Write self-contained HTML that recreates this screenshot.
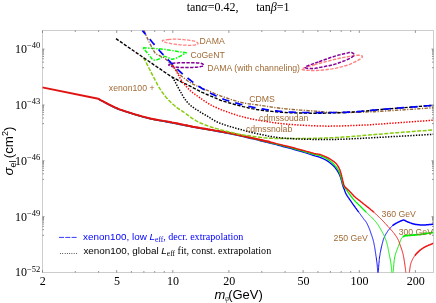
<!DOCTYPE html>
<html><head><meta charset="utf-8"><title>plot</title>
<style>
html,body{margin:0;padding:0;background:#fff;}
#w{position:relative;width:436px;height:303px;overflow:hidden;background:#fff;font-family:"Liberation Sans",sans-serif;}
.t{position:absolute;white-space:nowrap;line-height:1;}
.se{font-family:"Liberation Serif",serif;}
.br{color:#a06a35;font-size:8.7px;}
.yl{font-family:"Liberation Serif",serif;font-size:12px;color:#000;text-align:right;width:40.3px;left:0;}
.yl sup{font-size:8.5px;vertical-align:baseline;position:relative;top:-4.5px;}
.xl{font-family:"Liberation Serif",serif;font-size:12px;color:#000;transform:translateX(-50%);}
</style></head><body><div id="w">
<svg width="436" height="303" viewBox="0 0 436 303" style="position:absolute;left:0;top:0">
<defs><clipPath id="cp"><rect x="42.5" y="30.5" width="391.0" height="242.0"/></clipPath></defs>
<g stroke="#cdcdcd" stroke-width="1" fill="none" shape-rendering="crispEdges">
<rect x="42.5" y="30.5" width="391.0" height="242.0"/>
<path stroke="#666" stroke-width="0.7" shape-rendering="auto" d="M42.5 272.5 v-2.4 M42.5 30.5 v2.4 M75.3 272.5 v-1.5 M75.3 30.5 v1.5 M98.6 272.5 v-1.5 M98.6 30.5 v1.5 M116.7 272.5 v-2.4 M116.7 30.5 v2.4 M131.4 272.5 v-1.5 M131.4 30.5 v1.5 M143.9 272.5 v-1.5 M143.9 30.5 v1.5 M154.7 272.5 v-1.5 M154.7 30.5 v1.5 M164.3 272.5 v-1.5 M164.3 30.5 v1.5 M172.8 272.5 v-2.4 M172.8 30.5 v2.4 M228.9 272.5 v-2.4 M228.9 30.5 v2.4 M261.8 272.5 v-1.5 M261.8 30.5 v1.5 M285.1 272.5 v-1.5 M285.1 30.5 v1.5 M303.1 272.5 v-2.4 M303.1 30.5 v2.4 M317.9 272.5 v-1.5 M317.9 30.5 v1.5 M330.4 272.5 v-1.5 M330.4 30.5 v1.5 M341.2 272.5 v-1.5 M341.2 30.5 v1.5 M350.7 272.5 v-1.5 M350.7 30.5 v1.5 M359.3 272.5 v-2.4 M359.3 30.5 v2.4 M415.4 272.5 v-2.4 M415.4 30.5 v2.4 M42.5 49.1 h2.0 M433.5 49.1 h-2.0 M42.5 62.1 h1.5 M433.5 62.1 h-1.5 M42.5 58.8 h1.5 M433.5 58.8 h-1.5 M42.5 56.5 h1.5 M433.5 56.5 h-1.5 M42.5 54.7 h1.5 M433.5 54.7 h-1.5 M42.5 53.2 h1.5 M433.5 53.2 h-1.5 M42.5 52.0 h1.5 M433.5 52.0 h-1.5 M42.5 50.9 h1.5 M433.5 50.9 h-1.5 M42.5 50.0 h1.5 M433.5 50.0 h-1.5 M42.5 67.7 h1.5 M433.5 67.7 h-1.5 M42.5 105.0 h2.0 M433.5 105.0 h-2.0 M42.5 118.0 h1.5 M433.5 118.0 h-1.5 M42.5 114.7 h1.5 M433.5 114.7 h-1.5 M42.5 112.4 h1.5 M433.5 112.4 h-1.5 M42.5 110.6 h1.5 M433.5 110.6 h-1.5 M42.5 109.1 h1.5 M433.5 109.1 h-1.5 M42.5 107.8 h1.5 M433.5 107.8 h-1.5 M42.5 106.8 h1.5 M433.5 106.8 h-1.5 M42.5 105.8 h1.5 M433.5 105.8 h-1.5 M42.5 123.6 h1.5 M433.5 123.6 h-1.5 M42.5 160.8 h2.0 M433.5 160.8 h-2.0 M42.5 173.8 h1.5 M433.5 173.8 h-1.5 M42.5 170.5 h1.5 M433.5 170.5 h-1.5 M42.5 168.2 h1.5 M433.5 168.2 h-1.5 M42.5 166.4 h1.5 M433.5 166.4 h-1.5 M42.5 164.9 h1.5 M433.5 164.9 h-1.5 M42.5 163.7 h1.5 M433.5 163.7 h-1.5 M42.5 162.6 h1.5 M433.5 162.6 h-1.5 M42.5 161.7 h1.5 M433.5 161.7 h-1.5 M42.5 179.4 h1.5 M433.5 179.4 h-1.5 M42.5 216.7 h2.0 M433.5 216.7 h-2.0 M42.5 229.7 h1.5 M433.5 229.7 h-1.5 M42.5 226.4 h1.5 M433.5 226.4 h-1.5 M42.5 224.1 h1.5 M433.5 224.1 h-1.5 M42.5 222.3 h1.5 M433.5 222.3 h-1.5 M42.5 220.8 h1.5 M433.5 220.8 h-1.5 M42.5 219.5 h1.5 M433.5 219.5 h-1.5 M42.5 218.5 h1.5 M433.5 218.5 h-1.5 M42.5 217.5 h1.5 M433.5 217.5 h-1.5 M42.5 235.3 h1.5 M433.5 235.3 h-1.5"/>
</g>
<g clip-path="url(#cp)" fill="none" stroke-linejoin="round">
<path d="M98.3 99.2 L99.7 99.9 L101.1 100.7 L102.6 101.4 L104.0 102.2 L105.5 103.0 L106.9 103.8 L108.3 104.5 L109.7 105.2 L111.1 105.9 L112.5 106.6 L113.8 107.2 L115.0 107.8 L116.2 108.3 L117.3 108.8 L118.4 109.3 L119.5 109.7 L120.5 110.0 L121.6 110.4 L122.6 110.7 L123.6 111.1 L124.5 111.4 L125.5 111.7 L126.6 112.1 L127.6 112.4 L128.7 112.7 L129.7 113.1 L130.8 113.4 L131.8 113.7 L132.8 114.1 L133.9 114.4 L134.9 114.7 L136.0 115.0 L137.0 115.3 L138.1 115.6 L139.1 115.9 L140.2 116.2 L141.2 116.5 L142.2 116.8 L143.2 117.0 L144.2 117.3 L145.2 117.6 L146.2 117.8 L147.2 118.1 L148.3 118.4 L149.3 118.6 L150.4 118.9 L151.6 119.1 L152.8 119.4 L154.0 119.7 L155.3 119.9 L156.6 120.2 L157.9 120.4 L159.2 120.6 L160.6 120.9 L162.0 121.1 L163.5 121.4 L165.0 121.7 L166.6 122.0 L168.3 122.3 L170.0 122.6 L171.8 122.9 L173.7 123.3 L175.6 123.7 L177.6 124.1 L179.7 124.5 L181.8 124.9 L184.0 125.3 L186.2 125.8 L188.4 126.2 L190.6 126.6 L192.9 127.1 L195.2 127.5 L197.6 127.9 L200.0 128.4 L202.6 128.8 L205.1 129.3 L207.8 129.7 L210.4 130.2 L213.0 130.6 L215.6 131.1 L218.1 131.5 L220.5 132.0 L222.8 132.4 L225.0 132.8 L227.0 133.2 L228.9 133.6 L230.6 133.9 L232.3 134.2 L233.9 134.6 L235.4 134.9 L236.9 135.2 L238.5 135.6 L240.1 135.9 L241.7 136.3 L243.4 136.7 L245.2 137.1 L247.1 137.5 L249.1 138.0 L251.1 138.5 L253.1 138.9 L255.2 139.4 L257.3 139.9 L259.4 140.5 L261.5 141.0 L263.7 141.5 L265.8 142.0 L267.9 142.6 L270.0 143.1 L272.1 143.6 L274.2 144.2 L276.4 144.7 L278.6 145.3 L280.8 145.9 L283.0 146.5 L285.1 147.0 L287.3 147.6 L289.3 148.2 L291.4 148.7 L293.3 149.3 L295.2 149.8 L297.0 150.3 L298.9 150.9 L300.7 151.4 L302.4 151.9 L304.2 152.5 L305.9 153.0 L307.5 153.5 L309.0 154.0 L310.4 154.5 L311.8 154.9 L313.0 155.3 L314.1 155.6 L315.0 155.9 L315.8 156.1 L316.4 156.3 L317.0 156.4 L317.4 156.5 L317.8 156.6 L318.1 156.7 L318.4 156.8 L318.7 156.9 L319.1 157.0 L319.5 157.2 L320.0 157.4 L320.6 157.6 L321.2 157.9 L321.8 158.2 L322.5 158.4 L323.1 158.7 L323.8 159.0 L324.4 159.3 L325.1 159.7 L325.8 160.0 L326.4 160.4 L327.0 160.7 L327.6 161.1 L328.2 161.5 L328.8 161.9 L329.3 162.3 L329.9 162.8 L330.4 163.2 L331.0 163.7 L331.5 164.1 L332.0 164.6 L332.5 165.1 L333.0 165.5 L333.5 166.0 L333.9 166.4 L334.3 166.8 L334.7 167.2 L335.1 167.7 L335.4 168.1 L335.7 168.5 L336.0 168.9 L336.3 169.3 L336.6 169.7 L336.9 170.2 L337.2 170.6 L337.4 171.0 L337.7 171.4 L338.0 171.8 L338.2 172.2 L338.4 172.7 L338.7 173.1 L338.9 173.5 L339.1 174.0 L339.3 174.4 L339.5 174.8 L339.7 175.2 L339.9 175.7 L340.0 176.1 L340.2 176.5 L340.4 176.9 L340.5 177.3 L340.7 177.8 L340.8 178.2 L340.9 178.6 L341.0 179.0 L341.1 179.4 L341.3 179.9 L341.4 180.3 L341.5 180.7 L341.6 181.1 L341.7 181.5 L341.8 181.9 L341.9 182.3 L342.0 182.7 L342.1 183.2 L342.2 183.6 L342.3 184.0 L342.5 184.4 L342.6 184.8 L342.7 185.2 L342.8 185.6 L342.9 185.9 L343.0 186.3 L343.1 186.6 L343.2 187.0 L343.4 187.3 L343.5 187.6 L343.6 187.9 L343.7 188.2 L343.9 188.5 L344.0 188.8 L344.1 189.1 L344.2 189.4 L344.4 189.7 L344.5 190.0 L344.6 190.3 L344.7 190.6 L344.8 190.9 L344.9 191.2 L345.0 191.5 L345.1 191.9 L345.3 192.2 L345.4 192.5 L345.5 192.8 L345.7 193.2 L345.9 193.6 L346.1 194.0 L346.3 194.4 L346.6 194.9 L346.9 195.4 L347.2 195.8 L347.5 196.3 L347.9 196.9 L348.2 197.4 L348.6 197.9 L349.0 198.5 L349.3 199.0 L349.7 199.5 L350.1 200.1 L350.5 200.7 L350.9 201.2 L351.3 201.8 L351.7 202.4 L352.1 203.0 L352.5 203.6 L352.9 204.2 L353.4 204.8 L353.8 205.4 L354.2 206.0 L354.7 206.6 L355.1 207.2 L355.5 207.8 L356.0 208.4 L356.4 209.0 L356.9 209.7 L357.4 210.3 L357.8 210.9 L358.3 211.5 L358.7 212.1" stroke="#0000ff" stroke-width="1.3"/>
<path d="M358.7 212.1 L359.2 212.7 L359.6 213.3 L360.0 213.9 L360.4 214.4 L360.8 214.9 L361.1 215.4 L361.5 215.9 L361.8 216.4 L362.2 216.8 L362.5 217.3 L362.8 217.7 L363.1 218.1 L363.4 218.5 L363.7 218.9 L363.9 219.3 L364.2 219.6 L364.4 219.9 L364.6 220.2 L364.8 220.4 L365.0 220.6 L365.2 220.7 L365.3 220.9 L365.5 221.1 L365.6 221.3 L365.8 221.5 L365.9 221.7 L366.1 222.0 L366.3 222.3 L366.5 222.7 L366.7 223.1 L367.0 223.5 L367.2 224.0 L367.4 224.4 L367.7 224.9 L367.9 225.4 L368.2 226.0 L368.4 226.5 L368.6 227.0 L368.9 227.6 L369.1 228.1 L369.3 228.7 L369.5 229.2 L369.8 229.8 L370.0 230.4 L370.2 231.1 L370.4 231.7 L370.6 232.3 L370.8 232.9 L371.0 233.5 L371.2 234.1 L371.4 234.7 L371.6 235.2 L371.8 235.7 L371.9 236.2 L372.1 236.6 L372.2 237.0 L372.4 237.5 L372.5 237.9 L372.6 238.3 L372.7 238.6 L372.9 239.0 L373.0 239.4 L373.1 239.8 L373.2 240.2 L373.3 240.6 L373.4 241.0 L373.5 241.3 L373.6 241.7 L373.7 242.1 L373.7 242.4 L373.8 242.8 L373.9 243.2 L374.0 243.6 L374.0 244.0 L374.1 244.4 L374.2 244.8 L374.3 245.2 L374.4 245.6 L374.4 246.0 L374.5 246.4 L374.6 246.8 L374.7 247.2 L374.7 247.6 L374.8 248.1 L374.9 248.6 L375.0 249.2 L375.1 249.9 L375.2 250.6 L375.3 251.4 L375.5 252.3 L375.6 253.3 L375.8 254.4 L375.9 255.5 L376.1 256.6 L376.3 257.8 L376.4 259.0 L376.6 260.1 L376.7 261.2 L376.9 262.2 L377.0 263.2 L377.1 264.1 L377.2 265.0 L377.3 265.8 L377.3 266.7 L377.4 267.5 L377.5 268.3 L377.5 269.1 L377.6 269.8 L377.6 270.6 L377.7 271.4 L377.7 272.2 L377.8 273.0" stroke="#0000ff" stroke-width="0.95"/>
<path d="M378.2 273.0 L378.3 271.6 L378.4 270.3 L378.5 268.9 L378.6 267.5 L378.7 266.1 L378.8 264.7 L378.9 263.4 L379.1 262.0 L379.2 260.7 L379.3 259.4 L379.4 258.1 L379.6 256.9 L379.8 255.7 L380.0 254.5 L380.1 253.4 L380.4 252.3 L380.6 251.2 L380.8 250.1 L381.0 249.0 L381.2 248.0 L381.4 247.0 L381.7 246.1 L381.9 245.2 L382.1 244.3 L382.3 243.5 L382.5 242.7 L382.7 242.0 L382.9 241.3 L383.0 240.7 L383.2 240.1 L383.4 239.5 L383.6 238.9 L383.8 238.3 L384.1 237.7 L384.3 237.1 L384.6 236.5 L384.9 235.9 L385.2 235.3 L385.6 234.6 L385.9 234.0 L386.3 233.4 L386.7 232.8 L387.1 232.2 L387.4 231.6 L387.8 231.1 L388.2 230.5 L388.6 230.0 L389.0 229.5 L389.4 229.0 L389.7 228.6 L390.1 228.1 L390.5 227.7 L390.8 227.3 L391.2 226.9 L391.6 226.5 L391.9 226.2 L392.3 225.8" stroke="#0000ff" stroke-width="0.95"/>
<path d="M392.3 225.8 L392.7 225.5 L393.2 225.1 L393.6 224.8 L394.1 224.5 L394.6 224.1 L395.1 223.8 L395.7 223.5 L396.2 223.2 L396.8 222.9 L397.4 222.6 L397.9 222.3 L398.5 222.1 L399.0 221.8 L399.5 221.6 L399.9 221.4 L400.3 221.2 L400.7 221.0 L401.1 220.9 L401.4 220.7 L401.7 220.6 L402.0 220.5 L402.3 220.4 L402.6 220.3 L402.9 220.2 L403.2 220.2 L403.4 220.1 L403.7 220.1 L403.9 220.1 L404.1 220.1 L404.3 220.2 L404.5 220.2 L404.6 220.3 L404.8 220.4 L405.0 220.5 L405.1 220.6 L405.3 220.8 L405.6 220.9 L405.9 221.1 L406.2 221.2 L406.6 221.4 L407.0 221.6 L407.5 221.8 L408.0 222.0 L408.6 222.2 L409.1 222.4 L409.7 222.7 L410.3 222.9 L410.8 223.1 L411.4 223.3 L412.0 223.5 L412.5 223.7 L413.0 223.8 L413.6 224.0 L414.1 224.1 L414.6 224.2 L415.1 224.3 L415.6 224.4 L416.2 224.5 L416.7 224.6 L417.2 224.6 L417.8 224.7 L418.3 224.7 L418.8 224.8 L419.3 224.8 L419.8 224.9 L420.3 224.9 L420.8 224.9 L421.3 225.0 L421.8 225.0 L422.3 225.0 L422.9 225.0 L423.4 225.0 L423.9 224.9 L424.5 224.9 L425.1 224.9 L425.7 224.9 L426.4 224.8 L427.0 224.8 L427.7 224.7 L428.4 224.7 L429.1 224.6 L429.8 224.5 L430.5 224.5 L431.2 224.4 L431.9 224.3 L432.6 224.3 L433.3 224.2" stroke="#0000ff" stroke-width="1.5"/>
<path d="M98.3 99.0 L99.7 99.7 L101.1 100.5 L102.6 101.2 L104.0 102.0 L105.5 102.8 L106.9 103.5 L108.3 104.3 L109.7 105.0 L111.1 105.7 L112.5 106.4 L113.8 107.0 L115.0 107.6 L116.2 108.1 L117.3 108.6 L118.4 109.1 L119.5 109.5 L120.5 109.8 L121.6 110.2 L122.6 110.5 L123.6 110.9 L124.5 111.2 L125.5 111.5 L126.6 111.9 L127.6 112.2 L128.7 112.5 L129.7 112.9 L130.8 113.2 L131.8 113.5 L132.8 113.9 L133.9 114.2 L134.9 114.5 L136.0 114.8 L137.0 115.1 L138.1 115.4 L139.1 115.7 L140.2 116.0 L141.2 116.3 L142.2 116.6 L143.2 116.8 L144.2 117.1 L145.2 117.4 L146.2 117.6 L147.2 117.9 L148.3 118.2 L149.3 118.4 L150.4 118.7 L151.6 118.9 L152.8 119.2 L154.0 119.5 L155.3 119.7 L156.6 119.9 L157.9 120.2 L159.2 120.4 L160.6 120.6 L162.0 120.9 L163.5 121.1 L165.0 121.4 L166.6 121.7 L168.3 122.0 L170.0 122.3 L171.8 122.6 L173.7 123.0 L175.6 123.4 L177.6 123.8 L179.7 124.2 L181.8 124.7 L184.0 125.1 L186.2 125.6 L188.4 126.0 L190.6 126.4 L192.9 126.9 L195.2 127.3 L197.6 127.7 L200.0 128.2 L202.6 128.6 L205.1 129.0 L207.8 129.5 L210.4 129.9 L213.0 130.3 L215.6 130.8 L218.1 131.2 L220.5 131.6 L222.8 132.0 L225.0 132.4 L227.0 132.8 L228.9 133.1 L230.6 133.5 L232.3 133.8 L233.9 134.2 L235.4 134.5 L236.9 134.8 L238.5 135.2 L240.1 135.5 L241.7 135.9 L243.4 136.3 L245.2 136.7 L247.1 137.1 L249.1 137.6 L251.1 138.0 L253.1 138.5 L255.2 139.0 L257.3 139.5 L259.4 140.0 L261.5 140.5 L263.7 141.0 L265.8 141.5 L267.9 142.0 L270.0 142.5 L272.1 143.0 L274.2 143.6 L276.4 144.1 L278.6 144.7 L280.8 145.2 L283.0 145.8 L285.1 146.3 L287.3 146.9 L289.3 147.4 L291.4 148.0 L293.3 148.5 L295.2 149.0 L297.0 149.5 L298.9 150.0 L300.7 150.5 L302.4 151.0 L304.2 151.5 L305.9 152.0 L307.5 152.4 L309.0 152.9 L310.4 153.3 L311.8 153.7 L313.0 154.0 L314.1 154.3 L315.0 154.5 L315.8 154.7 L316.4 154.9 L317.0 154.9 L317.4 155.0 L317.8 155.1 L318.1 155.1 L318.4 155.1 L318.7 155.2 L319.1 155.3 L319.5 155.4 L320.0 155.6 L320.6 155.8 L321.2 156.1 L321.8 156.3 L322.5 156.6 L323.2 156.9 L323.8 157.2 L324.5 157.5 L325.2 157.9 L325.8 158.2 L326.4 158.5 L327.0 158.9 L327.6 159.2 L328.1 159.5 L328.6 159.9 L329.1 160.2 L329.6 160.5 L330.1 160.9 L330.5 161.2 L330.9 161.6 L331.3 162.0 L331.8 162.3 L332.2 162.7 L332.6 163.1 L333.0 163.5 L333.4 163.9 L333.8 164.3 L334.2 164.8 L334.6 165.2 L335.0 165.6 L335.4 166.1 L335.8 166.5 L336.2 167.0 L336.5 167.5 L336.9 167.9 L337.2 168.4 L337.5 168.8 L337.8 169.2 L338.0 169.7 L338.3 170.1 L338.5 170.5 L338.7 171.0 L338.9 171.4 L339.1 171.9 L339.3 172.3 L339.5 172.7 L339.7 173.1 L339.8 173.6 L340.0 174.0 L340.2 174.4 L340.3 174.9 L340.5 175.3 L340.6 175.7 L340.7 176.1 L340.8 176.5 L340.9 177.0 L341.1 177.4 L341.2 177.8 L341.3 178.2 L341.4 178.6 L341.5 179.0 L341.6 179.4 L341.7 179.8 L341.8 180.2 L342.0 180.6 L342.1 181.0 L342.2 181.4 L342.3 181.8 L342.4 182.1 L342.5 182.5 L342.6 182.9 L342.7 183.2 L342.8 183.5 L342.9 183.8 L343.0 184.1 L343.1 184.3 L343.1 184.5 L343.2 184.7 L343.3 184.9 L343.3 185.2 L343.4 185.4 L343.5 185.6 L343.6 185.8 L343.8 186.0 L343.9 186.3 L344.1 186.6 L344.2 186.8 L344.4 187.1 L344.7 187.4 L344.9 187.7 L345.1 188.0 L345.3 188.3 L345.6 188.6 L345.8 189.0 L346.1 189.3 L346.3 189.6 L346.6 190.0 L346.9 190.4 L347.1 190.7 L347.4 191.1 L347.7 191.5 L347.9 191.9 L348.2 192.4 L348.5 192.8 L348.8 193.2 L349.1 193.6 L349.4 194.1 L349.8 194.5 L350.1 195.0 L350.5 195.5 L350.8 196.0 L351.2 196.5 L351.7 197.0 L352.1 197.5 L352.5 198.1 L352.9 198.6 L353.4 199.1 L353.8 199.6 L354.2 200.1 L354.7 200.6 L355.1 201.1 L355.5 201.6 L355.9 202.0 L356.4 202.4 L356.8 202.8 L357.2 203.3 L357.7 203.7 L358.1 204.1 L358.5 204.5 L358.9 204.9 L359.4 205.3 L359.8 205.7 L360.2 206.1 L360.6 206.5 L361.0 207.0 L361.5 207.4 L361.9 207.8 L362.3 208.3 L362.7 208.7 L363.2 209.1 L363.6 209.5 L364.0 210.0 L364.4 210.4 L364.8 210.8 L365.2 211.2 L365.6 211.6 L366.0 212.0 L366.4 212.3" stroke="#00ee00" stroke-width="1.3"/>
<path d="M366.4 212.3 L366.8 212.7 L367.2 213.1 L367.5 213.4 L367.9 213.8 L368.3 214.2 L368.7 214.5 L369.0 214.9 L369.4 215.2 L369.8 215.6 L370.2 216.0 L370.5 216.3 L370.9 216.7 L371.3 217.0 L371.7 217.4 L372.0 217.8 L372.4 218.1 L372.8 218.5 L373.1 218.9 L373.5 219.2 L373.8 219.6 L374.2 220.0 L374.5 220.4 L374.9 220.8 L375.2 221.2 L375.6 221.6 L375.9 222.0 L376.3 222.4 L376.6 222.9 L376.9 223.3 L377.2 223.7 L377.6 224.2 L377.9 224.6 L378.2 225.1 L378.5 225.6 L378.8 226.0 L379.1 226.5 L379.4 227.0 L379.7 227.5 L380.0 228.0 L380.3 228.5 L380.6 229.1 L380.9 229.6 L381.1 230.1 L381.4 230.6 L381.7 231.1 L382.0 231.6 L382.2 232.1 L382.5 232.6 L382.8 233.1 L383.1 233.6 L383.3 234.1 L383.6 234.5 L383.8 235.1 L384.1 235.6 L384.3 236.1 L384.6 236.6 L384.8 237.2 L385.0 237.8 L385.3 238.4 L385.5 239.0 L385.7 239.7 L386.0 240.4 L386.2 241.0 L386.4 241.7 L386.6 242.3 L386.8 243.0 L387.0 243.6 L387.1 244.2 L387.3 244.8 L387.4 245.3 L387.6 245.8 L387.7 246.2 L387.8 246.6 L387.8 247.0 L387.9 247.4 L388.0 247.8 L388.1 248.2 L388.1 248.7 L388.2 249.3 L388.4 249.9 L388.5 250.6 L388.7 251.4 L388.8 252.3 L389.0 253.3 L389.3 254.4 L389.5 255.5 L389.7 256.6 L389.9 257.8 L390.2 259.0 L390.4 260.1 L390.6 261.2 L390.7 262.2 L390.9 263.2 L391.0 264.1 L391.1 265.0 L391.2 265.8 L391.3 266.7 L391.4 267.5 L391.5 268.3 L391.6 269.1 L391.6 269.8 L391.7 270.6 L391.7 271.4 L391.8 272.2 L391.9 273.0" stroke="#00ee00" stroke-width="0.95"/>
<path d="M393.0 273.0 L393.1 271.6 L393.3 270.3 L393.4 268.8 L393.5 267.4 L393.7 266.0 L393.8 264.6 L393.9 263.2 L394.1 261.8 L394.2 260.5 L394.4 259.3 L394.6 258.0 L394.8 256.9 L395.0 255.8 L395.3 254.8 L395.6 253.8 L395.9 252.9 L396.2 252.0 L396.5 251.2 L396.8 250.3 L397.1 249.5 L397.4 248.8 L397.7 248.0 L398.0 247.2 L398.3 246.5 L398.6 245.8 L398.8 245.0 L399.1 244.3 L399.3 243.6 L399.6 242.9 L399.8 242.3 L400.1 241.6 L400.3 241.0 L400.5 240.5 L400.7 239.9 L401.0 239.4 L401.2 239.0 L401.4 238.6 L401.6 238.3 L401.9 238.0 L402.1 237.7 L402.3 237.5 L402.5 237.3 L402.7 237.1 L402.9 237.0" stroke="#00ee00" stroke-width="0.95"/>
<path d="M402.9 237.0 L403.1 236.8 L403.3 236.7 L403.5 236.5 L403.7 236.4 L403.9 236.3 L404.0 236.2 L404.1 236.1 L404.2 236.0 L404.2 235.9 L404.3 235.9 L404.4 235.9 L404.6 235.8 L404.9 235.8 L405.2 235.7 L405.6 235.7 L406.2 235.6 L406.9 235.5 L407.7 235.5 L408.6 235.4 L409.6 235.3 L410.6 235.3 L411.8 235.2 L412.9 235.1 L414.1 235.0 L415.3 234.9 L416.5 234.8 L417.7 234.7 L418.8 234.6 L419.9 234.5 L421.1 234.3 L422.3 234.2 L423.5 234.0 L424.7 233.8 L425.9 233.6 L427.2 233.4 L428.4 233.2 L429.6 233.1 L430.9 232.9 L432.1 232.7 L433.3 232.5" stroke="#00ee00" stroke-width="1.8"/>
<path d="M98.3 98.8 L99.7 99.5 L101.1 100.3 L102.6 101.0 L104.0 101.8 L105.5 102.6 L106.9 103.3 L108.3 104.1 L109.7 104.8 L111.1 105.5 L112.5 106.2 L113.8 106.8 L115.0 107.4 L116.2 107.9 L117.3 108.4 L118.4 108.9 L119.5 109.3 L120.5 109.6 L121.6 110.0 L122.6 110.3 L123.6 110.7 L124.5 111.0 L125.5 111.3 L126.6 111.7 L127.6 112.0 L128.7 112.3 L129.7 112.7 L130.8 113.0 L131.8 113.3 L132.8 113.7 L133.9 114.0 L134.9 114.3 L136.0 114.6 L137.0 114.9 L138.1 115.2 L139.1 115.5 L140.2 115.8 L141.2 116.1 L142.2 116.4 L143.2 116.6 L144.2 116.9 L145.2 117.2 L146.2 117.4 L147.2 117.7 L148.3 118.0 L149.3 118.2 L150.4 118.5 L151.6 118.7 L152.8 119.0 L154.0 119.3 L155.3 119.5 L156.6 119.7 L157.9 119.9 L159.2 120.2 L160.6 120.4 L162.0 120.6 L163.5 120.9 L165.0 121.1 L166.6 121.4 L168.3 121.7 L170.0 122.0 L171.8 122.4 L173.7 122.7 L175.6 123.1 L177.6 123.5 L179.7 124.0 L181.8 124.4 L184.0 124.9 L186.2 125.3 L188.4 125.8 L190.6 126.2 L192.9 126.7 L195.2 127.1 L197.6 127.5 L200.0 128.0 L202.6 128.4 L205.1 128.8 L207.8 129.3 L210.4 129.7 L213.0 130.1 L215.6 130.6 L218.1 131.0 L220.5 131.4 L222.8 131.8 L225.0 132.2 L227.0 132.6 L228.9 132.9 L230.6 133.3 L232.3 133.6 L233.9 133.9 L235.4 134.3 L236.9 134.6 L238.5 134.9 L240.1 135.3 L241.7 135.6 L243.4 136.0 L245.2 136.4 L247.1 136.8 L249.1 137.2 L251.1 137.7 L253.1 138.1 L255.2 138.6 L257.3 139.1 L259.4 139.5 L261.5 140.0 L263.7 140.5 L265.8 141.0 L267.9 141.5 L270.0 142.0 L272.1 142.5 L274.2 143.0 L276.4 143.6 L278.6 144.1 L280.8 144.6 L283.0 145.2 L285.1 145.7 L287.3 146.3 L289.3 146.8 L291.4 147.3 L293.3 147.8 L295.2 148.3 L297.0 148.8 L298.9 149.3 L300.7 149.8 L302.4 150.2 L304.2 150.7 L305.9 151.2 L307.5 151.6 L309.0 152.0 L310.4 152.4 L311.8 152.8 L313.0 153.1 L314.1 153.4 L315.0 153.6 L315.8 153.8 L316.4 153.9 L317.0 154.0 L317.4 154.0 L317.8 154.1 L318.1 154.1 L318.4 154.1 L318.7 154.2 L319.1 154.2 L319.5 154.4 L320.0 154.5 L320.6 154.7 L321.2 154.9 L321.8 155.1 L322.4 155.3 L323.1 155.6 L323.7 155.8 L324.4 156.1 L325.0 156.4 L325.7 156.6 L326.3 157.0 L327.0 157.3 L327.6 157.6 L328.2 157.9 L328.9 158.3 L329.6 158.7 L330.2 159.1 L330.9 159.5 L331.6 160.0 L332.2 160.4 L332.9 160.9 L333.5 161.3 L334.1 161.7 L334.6 162.2 L335.1 162.6 L335.6 163.0 L336.0 163.4 L336.4 163.9 L336.7 164.3 L337.0 164.7 L337.4 165.1 L337.6 165.6 L337.9 166.0 L338.2 166.4 L338.4 166.9 L338.7 167.3 L338.9 167.7 L339.1 168.1 L339.3 168.5 L339.5 169.0 L339.7 169.4 L339.9 169.8 L340.0 170.2 L340.1 170.6 L340.3 171.0 L340.4 171.5 L340.5 171.9 L340.7 172.3 L340.8 172.7 L340.9 173.1 L341.1 173.5 L341.2 173.9 L341.3 174.4 L341.4 174.8 L341.5 175.2 L341.6 175.6 L341.7 176.0 L341.8 176.4 L341.9 176.9 L342.0 177.3 L342.1 177.7 L342.2 178.1 L342.3 178.6 L342.4 179.0 L342.5 179.5 L342.6 179.9 L342.7 180.3 L342.8 180.8 L342.9 181.2 L343.0 181.6 L343.1 182.0 L343.2 182.4 L343.3 182.8 L343.4 183.1 L343.5 183.5 L343.5 183.8 L343.6 184.1 L343.7 184.4 L343.7 184.6 L343.8 184.9 L343.9 185.2 L344.0 185.4 L344.1 185.7 L344.3 186.0 L344.5 186.3 L344.7 186.6 L345.0 186.9 L345.3 187.2 L345.7 187.6 L346.0 187.9 L346.4 188.2 L346.8 188.6 L347.2 188.9 L347.5 189.2 L347.9 189.6 L348.3 189.9 L348.6 190.2 L348.9 190.5 L349.2 190.8 L349.5 191.2 L349.8 191.5 L350.1 191.8 L350.4 192.2 L350.7 192.5 L351.0 192.8 L351.3 193.1 L351.6 193.4 L351.8 193.7 L352.1 194.0 L352.4 194.3 L352.6 194.5 L352.8 194.8 L353.1 195.1 L353.3 195.3 L353.5 195.5 L353.7 195.8 L354.0 196.0 L354.2 196.3 L354.5 196.5 L354.8 196.8 L355.1 197.1 L355.5 197.4 L355.8 197.7 L356.2 198.0 L356.6 198.4 L357.1 198.7 L357.5 199.0 L358.0 199.4 L358.4 199.7 L358.9 200.1 L359.3 200.4 L359.8 200.8 L360.2 201.1 L360.6 201.4 L361.0 201.8 L361.5 202.1 L361.9 202.4 L362.3 202.8 L362.7 203.1 L363.1 203.4 L363.5 203.8 L363.9 204.1 L364.4 204.4 L364.8 204.8 L365.2 205.1 L365.6 205.4 L366.0 205.8 L366.5 206.1 L366.9 206.4 L367.3 206.8 L367.7 207.1 L368.1 207.4 L368.6 207.8 L369.0 208.1 L369.4 208.5 L369.9 208.8 L370.3 209.2 L370.7 209.6 L371.2 210.0 L371.6 210.3 L372.1 210.7 L372.6 211.1 L373.0 211.5 L373.5 211.9 L374.0 212.3" stroke="#ee1111" stroke-width="1.4"/>
<path d="M374.0 212.3 L374.4 212.8 L374.9 213.2 L375.3 213.6 L375.8 214.0 L376.3 214.4 L376.7 214.8 L377.2 215.3 L377.6 215.7 L378.1 216.1 L378.5 216.6 L379.0 217.0 L379.4 217.4 L379.9 217.9 L380.3 218.3 L380.8 218.8 L381.2 219.2 L381.6 219.6 L382.1 220.1 L382.5 220.5 L382.9 221.0 L383.4 221.4 L383.8 221.9 L384.2 222.3 L384.6 222.8 L385.0 223.2 L385.5 223.7 L385.9 224.1 L386.3 224.6 L386.7 225.1 L387.1 225.5 L387.6 226.0 L388.0 226.4 L388.4 226.9 L388.9 227.4 L389.3 227.8 L389.7 228.3 L390.1 228.8 L390.5 229.2 L390.9 229.7 L391.3 230.1 L391.7 230.5 L392.0 231.0 L392.4 231.4 L392.8 231.8 L393.1 232.3 L393.5 232.7 L393.8 233.1 L394.1 233.5 L394.5 233.9 L394.8 234.4 L395.1 234.8 L395.4 235.2 L395.7 235.6 L396.0 236.0 L396.3 236.5 L396.5 236.9 L396.8 237.3 L397.1 237.8 L397.3 238.2 L397.6 238.6 L397.8 239.0 L398.0 239.4 L398.2 239.8 L398.4 240.2 L398.6 240.6 L398.7 240.9 L398.8 241.1 L398.9 241.4 L399.0 241.7 L399.1 241.9 L399.2 242.2 L399.3 242.5 L399.4 242.9 L399.6 243.3 L399.7 243.8 L399.9 244.3 L400.1 244.9 L400.3 245.6 L400.6 246.4 L400.9 247.2 L401.2 248.0 L401.5 248.9 L401.8 249.8 L402.1 250.7 L402.4 251.7 L402.6 252.6 L402.9 253.5 L403.1 254.4 L403.3 255.3 L403.5 256.3 L403.7 257.2 L403.9 258.2 L404.0 259.2 L404.2 260.2 L404.3 261.2 L404.5 262.2 L404.6 263.1 L404.8 264.0 L404.9 264.9 L405.0 265.7 L405.1 266.4 L405.2 267.1 L405.3 267.8 L405.4 268.4 L405.4 269.0 L405.5 269.6 L405.6 270.2 L405.6 270.7 L405.7 271.3 L405.8 271.8 L405.8 272.4 L405.9 273.0" stroke="#ee1111" stroke-width="0.95"/>
<path d="M409.3 273.0 L409.4 272.3 L409.5 271.6 L409.6 270.8 L409.7 270.1 L409.8 269.3 L409.9 268.6 L410.0 267.9 L410.1 267.2 L410.2 266.5 L410.3 265.8 L410.4 265.1 L410.6 264.5 L410.8 263.9 L410.9 263.3 L411.1 262.8 L411.3 262.2 L411.5 261.7 L411.7 261.2 L411.9 260.7 L412.2 260.2 L412.4 259.7 L412.6 259.2 L412.9 258.7 L413.2 258.2 L413.5 257.7 L413.8 257.2 L414.1 256.7 L414.5 256.2 L414.8 255.7" stroke="#ee1111" stroke-width="0.95"/>
<path d="M414.8 255.7 L415.2 255.3 L415.5 254.8 L415.9 254.3 L416.3 253.9 L416.7 253.4 L417.2 252.9 L417.6 252.5 L418.0 252.1 L418.5 251.6 L419.0 251.2 L419.4 250.8 L419.9 250.3 L420.4 249.9 L421.0 249.5 L421.5 249.1 L422.1 248.7 L422.6 248.3 L423.3 247.9 L423.9 247.5 L424.6 247.1 L425.3 246.8 L426.0 246.4 L426.8 246.0 L427.6 245.7 L428.4 245.3 L429.2 245.0 L430.1 244.7 L430.9 244.3 L431.7 244.0 L432.5 243.6 L433.3 243.3" stroke="#ee1111" stroke-width="1.5"/>
<path d="M42.2 87.4 L98.3 98.8 L98.3 98.8 L99.7 99.5 L101.1 100.3 L102.6 101.0 L104.0 101.8 L105.5 102.6 L106.9 103.3 L108.3 104.1 L109.7 104.8 L111.1 105.5 L112.5 106.2 L113.8 106.8 L115.0 107.4 L116.2 107.9 L117.3 108.4 L118.4 108.9 L119.5 109.3 L120.5 109.6 L121.6 110.0 L122.6 110.3 L123.6 110.7 L124.5 111.0 L125.5 111.3 L126.6 111.7 L127.6 112.0 L128.7 112.3 L129.7 112.7 L130.8 113.0 L131.8 113.3 L132.8 113.7 L133.9 114.0 L134.9 114.3 L136.0 114.6 L137.0 114.9 L138.1 115.2 L139.1 115.5 L140.2 115.8 L141.2 116.1 L142.2 116.4 L143.2 116.6 L144.2 116.9 L145.2 117.2 L146.2 117.4 L147.2 117.7 L148.3 118.0 L149.3 118.2 L150.4 118.5 L151.6 118.7 L152.8 119.0 L154.0 119.3 L155.3 119.5 L156.6 119.7 L157.9 119.9 L159.2 120.2 L160.6 120.4 L162.0 120.6 L163.5 120.9 L165.0 121.1 L166.6 121.4 L168.3 121.7 L170.0 122.0 L171.8 122.4 L173.7 122.7 L175.6 123.1 L177.6 123.5 L179.7 124.0 L181.8 124.4 L184.0 124.9 L186.2 125.3 L188.4 125.8 L190.6 126.2 L192.9 126.7 L195.2 127.1 L197.6 127.5 L200.0 128.0 L202.6 128.4 L205.1 128.8 L207.8 129.3 L210.4 129.7 L213.0 130.1 L215.6 130.6 L218.1 131.0 L220.5 131.4 L222.8 131.8 L225.0 132.2 L227.0 132.6 L228.9 132.9 L230.6 133.3 L232.3 133.6 L233.9 133.9 L235.4 134.3 L236.9 134.6 L238.5 134.9 L240.1 135.3 L241.7 135.6 L243.4 136.0 L245.2 136.4 L247.1 136.8 L249.1 137.3 L251.1 137.7 L253.1 138.2 L255.2 138.6 L257.3 139.1 L259.4 139.6 L261.6 140.1 L263.7 140.6 L265.8 141.1 L267.9 141.5 L270.0 142.0" stroke="#e01212" stroke-width="1.9"/>
<path d="M168.0 39.6 L168.9 39.5 L169.8 39.4 L170.7 39.3 L171.7 39.2 L172.8 39.1 L173.9 39.1 L175.1 39.1 L176.4 39.1 L177.9 39.2 L179.6 39.3 L181.5 39.4 L183.4 39.6 L185.2 39.8 L187.0 39.9 L188.6 40.1 L190.0 40.3 L191.1 40.5 L192.1 40.6 L193.0 40.8 L193.7 41.0 L194.4 41.2 L195.0 41.4 L195.5 41.6 L196.0 41.8 L196.5 42.0 L196.9 42.2 L197.2 42.5 L197.5 42.7 L197.7 43.0 L197.9 43.2 L198.0 43.4 L198.0 43.6 L198.0 43.8 L197.9 44.0 L197.7 44.1 L197.5 44.3 L197.2 44.4 L196.9 44.6 L196.5 44.7 L196.0 44.8 L195.5 44.9 L194.9 45.0 L194.2 45.1 L193.5 45.2 L192.7 45.2 L191.9 45.3 L191.0 45.3 L190.0 45.3 L188.9 45.3 L187.7 45.3 L186.5 45.2 L185.1 45.1 L183.8 45.1 L182.5 45.0 L181.2 44.9 L180.0 44.8 L178.9 44.7 L177.8 44.6 L176.8 44.5 L175.8 44.4 L174.8 44.2 L173.9 44.1 L172.9 44.0 L172.0 43.8 L171.0 43.6 L170.1 43.4 L169.1 43.2 L168.2 43.0 L167.3 42.8 L166.4 42.6 L165.7 42.4 L165.0 42.2 L164.4 42.0 L163.8 41.8 L163.3 41.6 L162.9 41.4 L162.5 41.2 L162.3 41.0 L162.2 40.8 L162.3 40.6 L162.6 40.4 L163.1 40.3 L163.7 40.2 L164.5 40.0 L165.3 39.9 L166.2 39.8 L167.1 39.7 Z" stroke="#ff8080" stroke-width="1.3" stroke-dasharray="3.4 1.4"/>
<path d="M172.0 63.4 L172.8 63.3 L173.6 63.2 L174.6 63.1 L175.6 63.0 L176.6 62.9 L177.7 62.9 L178.9 62.8 L180.0 62.8 L181.2 62.8 L182.4 62.8 L183.6 62.7 L184.9 62.7 L186.2 62.8 L187.5 62.8 L188.7 62.8 L190.0 62.8 L191.3 62.8 L192.6 62.8 L194.0 62.8 L195.4 62.8 L196.7 62.9 L197.9 62.9 L199.1 63.0 L200.0 63.1 L200.8 63.3 L201.5 63.5 L202.2 63.7 L202.7 64.0 L203.1 64.2 L203.4 64.5 L203.6 64.8 L203.7 65.0 L203.6 65.2 L203.4 65.5 L203.1 65.7 L202.7 66.0 L202.2 66.2 L201.5 66.4 L200.8 66.6 L200.0 66.8 L199.1 66.9 L197.9 67.1 L196.7 67.2 L195.4 67.3 L194.0 67.3 L192.6 67.4 L191.3 67.5 L190.0 67.5 L188.7 67.5 L187.5 67.6 L186.2 67.6 L184.9 67.6 L183.6 67.6 L182.4 67.6 L181.2 67.6 L180.0 67.5 L178.9 67.4 L177.7 67.3 L176.6 67.2 L175.6 67.1 L174.6 67.0 L173.6 66.8 L172.8 66.7 L172.0 66.5 L171.3 66.3 L170.7 66.1 L170.2 65.9 L169.7 65.7 L169.3 65.5 L169.0 65.3 L168.9 65.1 L168.8 64.9 L168.9 64.7 L169.0 64.5 L169.3 64.3 L169.7 64.1 L170.2 63.9 L170.7 63.7 L171.3 63.5 Z" stroke="#850099" stroke-width="1.5" stroke-dasharray="3.4 1.4"/>
<path d="M142.9 47.7 L163.7 49.2 L176.5 51.3 L186.2 52.8 L180.4 56.1 L175.2 58.6 L172.0 59.3 L167.5 57.3 L163.7 56.1 L159.8 58.6 L156.0 60.3 L152.8 59.9 L148.3 54.1 Z" stroke="#00ff00" stroke-width="1.5" stroke-dasharray="3.8 1.5 1.3 1.5"/>
<path d="M314.3 64.9 L316.5 64.2 L319.0 63.5 L321.7 62.8 L324.5 62.0 L327.3 61.3 L330.0 60.6 L332.7 59.9 L335.1 59.3 L337.4 58.8 L339.6 58.3 L341.8 57.8 L344.0 57.4 L346.0 57.0 L347.9 56.7 L349.6 56.4 L351.2 56.1 L352.6 55.9 L353.9 55.7 L355.0 55.5 L356.0 55.4 L356.9 55.3 L357.7 55.2 L358.5 55.2 L359.2 55.2 L359.9 55.3 L360.5 55.4 L361.0 55.5 L361.5 55.7 L361.9 55.9 L362.2 56.1 L362.3 56.3 L362.4 56.6 L362.4 56.9 L362.2 57.2 L362.0 57.5 L361.7 57.9 L361.3 58.2 L360.7 58.7 L360.0 59.1 L359.2 59.6 L358.2 60.2 L357.1 60.8 L355.8 61.5 L354.4 62.2 L352.9 62.9 L351.3 63.6 L349.7 64.3 L348.0 64.9 L346.2 65.5 L344.4 66.0 L342.4 66.6 L340.3 67.1 L338.3 67.6 L336.1 68.1 L334.0 68.5 L331.9 68.9 L329.7 69.2 L327.5 69.5 L325.2 69.8 L322.9 70.0 L320.6 70.2 L318.4 70.4 L316.3 70.5 L314.3 70.5 L312.3 70.5 L310.2 70.4 L308.1 70.4 L306.1 70.2 L304.4 70.0 L303.0 69.8 L302.0 69.5 L301.7 69.2 L302.0 68.8 L302.9 68.4 L304.2 67.9 L305.9 67.3 L307.9 66.7 L310.0 66.1 L312.2 65.5 Z" stroke="#ff8080" stroke-width="1.4" stroke-dasharray="3.4 1.4"/>
<path d="M319.1 61.7 L321.0 61.0 L323.0 60.3 L325.1 59.5 L327.3 58.8 L329.3 58.0 L331.4 57.3 L333.3 56.7 L335.1 56.1 L336.8 55.6 L338.4 55.1 L340.0 54.7 L341.4 54.3 L342.8 54.0 L344.1 53.7 L345.3 53.4 L346.4 53.2 L347.3 53.0 L348.1 52.8 L348.8 52.6 L349.3 52.5 L349.8 52.4 L350.3 52.4 L350.7 52.4 L351.2 52.5 L351.7 52.6 L352.2 52.8 L352.8 53.1 L353.2 53.4 L353.6 53.7 L353.9 54.1 L354.1 54.4 L354.1 54.8 L354.0 55.2 L353.7 55.6 L353.4 56.0 L352.9 56.4 L352.3 56.9 L351.6 57.4 L350.7 57.9 L349.6 58.5 L348.3 59.1 L346.7 59.8 L345.0 60.6 L343.1 61.3 L341.1 62.1 L339.1 62.8 L337.1 63.5 L335.1 64.1 L333.1 64.7 L331.0 65.2 L328.9 65.7 L326.7 66.1 L324.6 66.6 L322.6 66.9 L320.7 67.3 L319.1 67.6 L317.7 67.9 L316.5 68.1 L315.4 68.3 L314.5 68.4 L313.6 68.5 L312.8 68.6 L311.9 68.6 L311.1 68.6 L310.1 68.5 L309.1 68.5 L307.9 68.4 L306.9 68.2 L306.0 68.0 L305.4 67.7 L305.2 67.4 L305.4 67.0 L306.2 66.5 L307.4 65.9 L309.0 65.3 L310.9 64.6 L312.9 63.9 L315.1 63.1 L317.1 62.4 Z" stroke="#850099" stroke-width="1.5" stroke-dasharray="3.4 1.4"/>
<path d="M143.4 57.6 L143.7 58.2 L144.0 58.7 L144.3 59.2 L144.6 59.8 L144.9 60.3 L145.2 60.8 L145.5 61.4 L145.8 61.9 L146.1 62.5 L146.5 63.2 L146.8 63.9 L147.2 64.6 L147.6 65.4 L148.0 66.2 L148.5 67.1 L148.9 68.0 L149.4 69.0 L149.9 69.9 L150.4 70.9 L150.9 71.9 L151.4 72.9 L151.9 74.0 L152.5 75.0 L153.0 76.0 L153.5 77.0 L154.1 78.1 L154.7 79.2 L155.2 80.3 L155.8 81.4 L156.4 82.5 L157.0 83.6 L157.6 84.8 L158.2 85.8 L158.8 86.9 L159.4 87.9 L160.0 88.9 L160.6 89.8 L161.2 90.8 L161.8 91.7 L162.4 92.5 L163.1 93.4 L163.7 94.2 L164.3 95.1 L165.0 95.9 L165.6 96.7 L166.3 97.5 L166.9 98.2 L167.6 99.0 L168.3 99.8 L169.0 100.5 L169.8 101.3 L170.5 102.0 L171.3 102.8 L172.1 103.5 L172.9 104.2 L173.6 104.8 L174.4 105.5 L175.1 106.1 L175.8 106.7 L176.4 107.2 L177.0 107.7 L177.5 108.1 L178.0 108.4 L178.4 108.7 L178.8 109.0 L179.3 109.2 L179.7 109.5 L180.2 109.7 L180.7 110.0 L181.2 110.4 L181.9 110.8 L182.6 111.3 L183.4 111.9 L184.3 112.5 L185.3 113.3 L186.3 114.0 L187.4 114.8 L188.5 115.6 L189.6 116.5 L190.8 117.3 L191.9 118.1 L193.0 118.8 L194.1 119.6 L195.2 120.2 L196.2 120.8 L197.2 121.3 L198.2 121.9 L199.2 122.4 L200.2 122.8 L201.2 123.3 L202.2 123.7 L203.3 124.2 L204.3 124.6 L205.4 125.0 L206.6 125.5 L207.8 125.9 L209.1 126.3 L210.4 126.8 L211.7 127.2 L213.1 127.6 L214.5 128.1 L215.9 128.5 L217.4 128.9 L218.9 129.3 L220.4 129.7 L221.9 130.1 L223.4 130.5 L225.0 130.9 L226.6 131.3 L228.1 131.7 L229.7 132.1 L231.3 132.4 L233.0 132.8 L234.6 133.2 L236.3 133.5 L238.0 133.9 L239.8 134.2 L241.5 134.6 L243.3 134.9 L245.2 135.2 L247.1 135.5 L249.1 135.8 L251.2 136.1 L253.3 136.4 L255.5 136.7 L257.7 136.9 L259.9 137.2 L262.0 137.4 L264.1 137.7 L266.2 137.9 L268.1 138.0 L270.0 138.2 L271.7 138.3 L273.4 138.4 L274.9 138.5 L276.3 138.5 L277.7 138.5 L279.1 138.6 L280.5 138.6 L281.9 138.5 L283.5 138.5 L285.1 138.5 L286.9 138.5 L288.9 138.5 L291.1 138.5 L293.4 138.5 L296.0 138.5 L298.6 138.5 L301.3 138.5 L304.1 138.4 L306.8 138.4 L309.6 138.4 L312.4 138.4 L315.0 138.3 L317.6 138.3 L320.0 138.2 L322.3 138.1 L324.5 138.1 L326.6 138.0 L328.7 137.9 L330.7 137.8 L332.7 137.7 L334.7 137.6 L336.7 137.5 L338.7 137.4 L340.8 137.3 L343.0 137.1 L345.2 137.0 L347.4 136.8 L349.6 136.7 L351.7 136.5 L353.7 136.3 L355.8 136.2 L358.0 136.0 L360.3 135.8 L362.8 135.5 L365.4 135.3 L368.3 135.1 L371.5 134.8 L375.0 134.5 L378.9 134.2 L383.1 133.9 L387.6 133.5 L392.3 133.1 L397.3 132.7 L402.4 132.3 L407.6 131.9 L412.8 131.5 L418.1 131.1 L423.3 130.7 L428.4 130.3 L433.3 129.9" stroke="#88cc11" stroke-width="1.5" stroke-dasharray="4 1.5"/>
<path d="M144.0 30.3 L144.3 31.1 L144.6 31.8 L144.9 32.6 L145.3 33.4 L145.6 34.1 L145.9 34.9 L146.2 35.6 L146.5 36.4 L146.9 37.1 L147.2 37.9 L147.5 38.6 L147.8 39.3 L148.1 40.0 L148.4 40.7 L148.8 41.3 L149.1 42.0 L149.4 42.6 L149.7 43.3 L150.0 43.9 L150.3 44.5 L150.7 45.1 L151.0 45.7 L151.3 46.3 L151.6 46.9 L151.9 47.5 L152.2 48.1 L152.5 48.6 L152.8 49.2 L153.1 49.8 L153.4 50.3 L153.7 50.9 L154.1 51.4 L154.4 51.9 L154.7 52.4 L155.0 52.8 L155.4 53.2 L155.8 53.6 L156.1 53.9 L156.5 54.2 L156.9 54.4 L157.3 54.6 L157.7 54.8 L158.1 55.0 L158.6 55.2 L159.0 55.4 L159.4 55.6 L159.8 55.8 L160.2 56.0 L160.6 56.2 L160.9 56.3 L161.3 56.5 L161.6 56.6 L161.9 56.7 L162.3 56.8 L162.6 56.9 L163.0 57.1 L163.4 57.3 L163.9 57.6 L164.4 58.0 L165.0 58.5 L165.7 59.1 L166.4 59.8 L167.3 60.6 L168.2 61.5 L169.1 62.5 L170.0 63.5 L171.0 64.5 L171.9 65.5 L172.8 66.4 L173.6 67.3 L174.4 68.2 L175.1 68.9 L175.7 69.6 L176.2 70.1 L176.6 70.7 L176.9 71.2 L177.3 71.6 L177.6 72.1 L177.9 72.5 L178.2 73.0 L178.6 73.4 L179.0 73.9 L179.6 74.4 L180.2 75.0 L180.9 75.6 L181.7 76.3 L182.6 77.0 L183.5 77.7 L184.4 78.4 L185.4 79.2 L186.4 79.9 L187.4 80.7 L188.4 81.4 L189.5 82.0 L190.5 82.7 L191.5 83.3 L192.5 83.9 L193.5 84.4 L194.6 84.9 L195.7 85.4 L196.7 85.9 L197.8 86.3 L198.9 86.8 L200.0 87.2 L201.0 87.6 L202.1 88.0 L203.1 88.5 L204.1 88.9 L205.1 89.3 L206.1 89.8 L207.0 90.2 L208.0 90.6 L208.9 91.0 L209.9 91.4 L210.8 91.8 L211.7 92.2 L212.5 92.6 L213.4 92.9 L214.2 93.3 L215.0 93.6 L215.7 93.9 L216.3 94.2 L216.9 94.4 L217.4 94.6 L217.8 94.8 L218.3 95.0 L218.8 95.2 L219.4 95.4 L220.0 95.7 L220.7 96.0 L221.6 96.3 L222.6 96.6 L223.8 97.0 L225.1 97.5 L226.5 97.9 L228.1 98.5 L229.7 99.0 L231.4 99.6 L233.1 100.1 L234.8 100.7 L236.5 101.2 L238.2 101.7 L239.9 102.1 L241.5 102.5 L243.0 102.8 L244.5 103.1 L246.0 103.4 L247.4 103.6 L248.9 103.9 L250.4 104.0 L251.8 104.2 L253.4 104.4 L254.9 104.6 L256.5 104.8 L258.2 105.1 L260.0 105.3 L261.9 105.6 L263.8 105.9 L265.7 106.2 L267.7 106.5 L269.8 106.8 L271.9 107.1 L274.0 107.4 L276.2 107.7 L278.4 108.0 L280.7 108.3 L282.9 108.5 L285.2 108.8 L287.6 109.0 L290.1 109.3 L292.7 109.5 L295.4 109.7 L298.1 109.9 L300.8 110.1 L303.5 110.3 L306.1 110.5 L308.6 110.6 L310.9 110.8 L313.1 111.0 L315.0 111.1 L316.7 111.2 L318.2 111.4 L319.5 111.5 L320.6 111.6 L321.7 111.7 L322.6 111.8 L323.6 111.9 L324.5 112.0 L325.4 112.1 L326.5 112.2 L327.6 112.2 L328.9 112.3 L330.3 112.4 L331.8 112.4 L333.3 112.4 L334.9 112.5 L336.5 112.5 L338.1 112.5 L339.8 112.5 L341.4 112.5 L343.1 112.5 L344.7 112.5 L346.3 112.5 L347.8 112.5 L349.3 112.5 L350.8 112.5 L352.2 112.4 L353.7 112.4 L355.1 112.4 L356.6 112.3 L358.0 112.3 L359.4 112.2 L360.8 112.2 L362.2 112.1 L363.6 112.1 L365.0 112.0 L366.3 112.0 L367.3 111.9 L368.2 111.9 L369.1 111.9 L369.9 111.9 L370.8 111.8 L371.8 111.8 L373.0 111.7 L374.5 111.7 L376.2 111.6 L378.4 111.5 L381.0 111.3 L384.1 111.1 L387.6 110.9 L391.5 110.6 L395.7 110.3 L400.2 110.0 L404.9 109.7 L409.7 109.4 L414.5 109.1 L419.4 108.7 L424.2 108.4 L428.8 108.1 L433.3 107.8" stroke="#996633" stroke-width="1.4" stroke-dasharray="3.4 1.4 1.2 1.4"/>
<path d="M116.0 38.7 L118.4 40.3 L120.7 41.9 L123.1 43.6 L125.6 45.3 L128.0 47.0 L130.4 48.6 L132.8 50.3 L135.1 51.9 L137.3 53.4 L139.5 54.9 L141.5 56.3 L143.4 57.6 L145.2 58.8 L146.8 60.0 L148.4 61.0 L149.9 62.0 L151.3 63.0 L152.6 63.9 L153.9 64.8 L155.2 65.6 L156.4 66.5 L157.6 67.3 L158.8 68.1 L160.0 68.9 L161.2 69.7 L162.3 70.5 L163.3 71.2 L164.3 71.9 L165.2 72.5 L166.2 73.2 L167.1 73.9 L168.1 74.5 L169.1 75.2 L170.2 75.9 L171.3 76.6 L172.6 77.3 L174.0 78.1 L175.5 78.9 L177.1 79.7 L178.7 80.6 L180.4 81.4 L182.1 82.3 L183.8 83.1 L185.5 83.9 L187.1 84.7 L188.7 85.5 L190.2 86.2 L191.5 86.9 L192.7 87.5 L193.8 88.1 L194.9 88.6 L195.9 89.1 L196.8 89.6 L197.7 90.1 L198.5 90.5 L199.4 91.0 L200.3 91.4 L201.1 91.8 L202.0 92.3 L203.0 92.7 L204.0 93.2 L205.0 93.6 L206.1 94.1 L207.1 94.5 L208.2 95.0 L209.2 95.4 L210.3 95.9 L211.3 96.3 L212.3 96.7 L213.2 97.1 L214.2 97.4 L215.0 97.8 L215.8 98.1 L216.4 98.4 L216.9 98.7 L217.4 98.9 L217.9 99.1 L218.4 99.3 L218.9 99.6 L219.4 99.8 L220.0 100.0 L220.7 100.3 L221.6 100.6 L222.6 100.9 L223.8 101.3 L225.1 101.7 L226.5 102.1 L228.1 102.6 L229.7 103.0 L231.4 103.5 L233.1 104.0 L234.8 104.5 L236.5 104.9 L238.2 105.4 L239.9 105.8 L241.5 106.2 L243.0 106.6 L244.5 106.9 L246.0 107.3 L247.4 107.6 L248.9 108.0 L250.4 108.3 L251.8 108.6 L253.4 108.9 L254.9 109.2 L256.5 109.5 L258.2 109.7 L260.0 110.0 L261.9 110.3 L263.8 110.5 L265.7 110.8 L267.7 111.0 L269.8 111.2 L271.9 111.4 L274.0 111.7 L276.2 111.8 L278.4 112.0 L280.7 112.2 L282.9 112.4 L285.2 112.5 L287.6 112.6 L290.1 112.7 L292.7 112.8 L295.4 112.9 L298.1 113.0 L300.8 113.0 L303.5 113.1 L306.1 113.1 L308.6 113.1 L310.9 113.2 L313.1 113.2 L315.0 113.2 L316.7 113.2 L318.2 113.2 L319.5 113.2 L320.6 113.2 L321.7 113.2 L322.6 113.2 L323.6 113.2 L324.5 113.1 L325.4 113.1 L326.5 113.1 L327.6 113.0 L328.9 113.0 L330.3 113.0 L331.8 112.9 L333.3 112.9 L334.9 112.8 L336.5 112.8 L338.1 112.7 L339.8 112.7 L341.4 112.6 L343.1 112.5 L344.7 112.5 L346.3 112.4 L347.8 112.3 L349.3 112.2 L350.8 112.1 L352.2 112.0 L353.7 112.0 L355.1 111.9 L356.6 111.8 L358.0 111.7 L359.4 111.5 L360.8 111.4 L362.2 111.3 L363.6 111.2 L365.0 111.1 L366.3 111.0 L367.3 110.9 L368.2 110.8 L369.1 110.7 L369.9 110.6 L370.8 110.5 L371.8 110.4 L373.0 110.2 L374.5 110.1 L376.2 109.9 L378.4 109.7 L381.0 109.5 L384.1 109.2 L387.6 109.0 L391.5 108.6 L395.7 108.3 L400.2 107.9 L404.9 107.6 L409.7 107.2 L414.5 106.8 L419.4 106.4 L424.2 106.0 L428.8 105.7 L433.3 105.3" stroke="#000" stroke-width="1.4" stroke-dasharray="3.3 1.5"/>
<path d="M142.2 30.3 L143.7 32.1 L145.3 34.0 L147.0 35.9 L148.6 37.9 L150.3 39.8 L151.9 41.8 L153.5 43.7 L155.1 45.4 L156.5 47.1 L157.8 48.7 L159.0 50.0 L160.0 51.2 L160.8 52.1 L161.4 52.8 L161.8 53.2 L162.0 53.5 L162.2 53.7 L162.3 53.8 L162.4 53.9 L162.5 54.0 L162.7 54.2 L163.0 54.5 L163.5 55.0 L164.2 55.7 L165.1 56.6 L166.1 57.6 L167.2 58.8 L168.4 60.1 L169.7 61.4 L171.0 62.8 L172.4 64.2 L173.8 65.6 L175.1 66.9 L176.4 68.3 L177.7 69.5 L178.9 70.6 L180.0 71.6 L181.1 72.6 L182.2 73.6 L183.3 74.5 L184.3 75.4 L185.3 76.2 L186.4 77.1 L187.4 77.9 L188.4 78.7 L189.4 79.5 L190.5 80.3 L191.5 81.1 L192.5 81.9 L193.6 82.7 L194.7 83.4 L195.7 84.2 L196.8 84.9 L197.8 85.6 L198.9 86.4 L199.9 87.0 L201.0 87.7 L202.0 88.4 L203.0 89.0 L204.0 89.6 L205.0 90.2 L206.0 90.7 L206.9 91.3 L207.9 91.8 L208.9 92.3 L209.8 92.8 L210.7 93.3 L211.6 93.7 L212.5 94.2 L213.4 94.6 L214.2 95.0 L215.0 95.4 L215.7 95.8 L216.3 96.1 L216.9 96.4 L217.4 96.7 L217.8 96.9 L218.3 97.2 L218.8 97.4 L219.4 97.7 L220.0 97.9 L220.7 98.2 L221.6 98.5 L222.6 98.9 L223.8 99.3 L225.1 99.7 L226.5 100.2 L228.1 100.7 L229.7 101.2 L231.4 101.7 L233.1 102.2 L234.8 102.7 L236.5 103.2 L238.2 103.6 L239.9 104.1 L241.5 104.5 L243.0 104.9 L244.5 105.3 L246.0 105.7 L247.4 106.0 L248.9 106.4 L250.4 106.7 L251.8 107.0 L253.4 107.4 L254.9 107.7 L256.5 108.0 L258.2 108.3 L260.0 108.6 L261.9 108.9 L263.8 109.2 L265.7 109.5 L267.7 109.8 L269.8 110.1 L271.9 110.4 L274.0 110.7 L276.2 110.9 L278.4 111.2 L280.7 111.4 L282.9 111.6 L285.2 111.8 L287.5 112.0 L289.9 112.1 L292.3 112.2 L294.7 112.3 L297.1 112.4 L299.6 112.4 L302.1 112.5 L304.7 112.5 L307.2 112.5 L309.8 112.6 L312.4 112.6 L315.0 112.6 L317.7 112.6 L320.5 112.6 L323.4 112.6 L326.3 112.6 L329.2 112.6 L332.2 112.5 L335.1 112.5 L337.9 112.4 L340.6 112.4 L343.2 112.3 L345.6 112.3 L347.8 112.2 L349.8 112.1 L351.6 112.0 L353.2 112.0 L354.7 111.9 L356.1 111.8 L357.5 111.7 L358.7 111.6 L359.9 111.5 L361.2 111.3 L362.4 111.2 L363.7 111.1 L365.0 111.0 L366.3 110.9 L367.3 110.8 L368.2 110.7 L369.1 110.6 L369.9 110.5 L370.8 110.4 L371.8 110.3 L373.0 110.2 L374.5 110.1 L376.2 109.9 L378.4 109.7 L381.0 109.5 L384.1 109.2 L387.6 109.0 L391.5 108.6 L395.7 108.3 L400.2 107.9 L404.9 107.6 L409.7 107.2 L414.5 106.8 L419.4 106.4 L424.2 106.0 L428.8 105.7 L433.3 105.3" stroke="#0000ff" stroke-width="1.7" stroke-dasharray="7.4 6.16" stroke-dashoffset="1.9"/>
<path d="M172.6 77.3 L173.1 78.3 L173.7 79.2 L174.2 80.2 L174.7 81.2 L175.2 82.2 L175.8 83.2 L176.3 84.1 L176.8 85.1 L177.3 86.1 L177.8 87.0 L178.4 88.0 L178.9 88.9 L179.4 89.8 L179.9 90.8 L180.4 91.7 L181.0 92.6 L181.5 93.5 L182.0 94.4 L182.5 95.3 L183.0 96.2 L183.5 97.1 L184.1 97.9 L184.6 98.7 L185.2 99.5 L185.8 100.2 L186.3 100.9 L186.8 101.6 L187.4 102.2 L187.9 102.8 L188.5 103.4 L189.0 104.0 L189.7 104.6 L190.3 105.2 L191.1 105.9 L191.9 106.5 L192.8 107.2 L193.8 107.9 L194.9 108.7 L196.1 109.5 L197.4 110.2 L198.7 111.0 L200.0 111.9 L201.4 112.7 L202.7 113.5 L204.1 114.2 L205.4 115.0 L206.6 115.7 L207.8 116.4 L208.9 117.0 L209.8 117.7 L210.7 118.3 L211.6 118.8 L212.4 119.4 L213.3 119.9 L214.1 120.4 L215.1 121.0 L216.1 121.5 L217.2 122.0 L218.5 122.6 L220.0 123.2 L221.6 123.8 L223.5 124.4 L225.4 125.1 L227.5 125.8 L229.6 126.4 L231.8 127.1 L234.1 127.7 L236.3 128.4 L238.6 129.0 L240.9 129.6 L243.1 130.2 L245.2 130.8 L247.3 131.3 L249.4 131.9 L251.6 132.4 L253.7 132.9 L255.9 133.4 L258.0 133.9 L260.1 134.3 L262.2 134.8 L264.2 135.2 L266.2 135.6 L268.1 136.0 L270.0 136.3 L271.7 136.6 L273.4 136.9 L274.9 137.1 L276.3 137.3 L277.7 137.5 L279.1 137.7 L280.5 137.8 L281.9 138.0 L283.5 138.1 L285.1 138.2 L286.9 138.4 L288.9 138.5 L291.1 138.6 L293.4 138.8 L296.0 138.9 L298.6 139.0 L301.3 139.1 L304.1 139.2 L306.8 139.2 L309.6 139.3 L312.4 139.4 L315.0 139.4 L317.6 139.5 L320.0 139.5 L322.3 139.5 L324.5 139.5 L326.6 139.5 L328.7 139.5 L330.7 139.5 L332.7 139.5 L334.7 139.4 L336.7 139.4 L338.7 139.3 L340.8 139.2 L343.0 139.2 L345.2 139.1 L347.4 139.0 L349.6 138.9 L351.7 138.8 L353.7 138.7 L355.8 138.6 L358.0 138.5 L360.3 138.4 L362.8 138.3 L365.4 138.1 L368.3 138.0 L371.5 137.8 L375.0 137.6 L378.9 137.4 L383.1 137.2 L387.6 136.9 L392.3 136.6 L397.3 136.4 L402.4 136.1 L407.6 135.8 L412.8 135.5 L418.1 135.2 L423.3 134.9 L428.4 134.6 L433.3 134.3" stroke="#000" stroke-width="1.5" stroke-dasharray="1.4 1.4"/>
<path d="M172.6 65.1 L172.9 65.6 L173.2 66.1 L173.5 66.6 L173.8 67.1 L174.1 67.5 L174.4 68.0 L174.7 68.5 L175.0 69.0 L175.4 69.6 L175.7 70.1 L176.0 70.7 L176.4 71.3 L176.8 72.0 L177.2 72.7 L177.5 73.4 L178.0 74.2 L178.4 74.9 L178.8 75.7 L179.2 76.5 L179.6 77.3 L180.1 78.1 L180.5 78.9 L181.0 79.6 L181.4 80.3 L181.9 81.0 L182.3 81.6 L182.8 82.3 L183.3 82.9 L183.8 83.5 L184.3 84.1 L184.8 84.7 L185.3 85.3 L185.8 85.9 L186.2 86.4 L186.7 86.9 L187.1 87.4 L187.5 87.8 L187.8 88.2 L188.2 88.6 L188.5 88.9 L188.7 89.2 L189.0 89.5 L189.3 89.8 L189.7 90.2 L190.0 90.5 L190.5 90.8 L190.9 91.2 L191.5 91.7 L192.1 92.2 L192.9 92.8 L193.6 93.3 L194.5 93.9 L195.3 94.6 L196.2 95.2 L197.2 95.9 L198.1 96.5 L199.0 97.1 L199.9 97.8 L200.7 98.3 L201.5 98.9 L202.2 99.4 L203.0 99.9 L203.6 100.4 L204.3 100.9 L204.9 101.3 L205.6 101.8 L206.2 102.2 L206.9 102.7 L207.6 103.1 L208.4 103.6 L209.2 104.0 L210.0 104.5 L210.9 105.0 L211.8 105.4 L212.7 105.9 L213.7 106.4 L214.6 106.8 L215.6 107.3 L216.7 107.8 L217.8 108.3 L218.9 108.7 L220.1 109.2 L221.3 109.7 L222.6 110.2 L224.0 110.7 L225.4 111.2 L226.9 111.8 L228.4 112.3 L230.0 112.9 L231.7 113.5 L233.3 114.0 L235.0 114.5 L236.7 115.1 L238.3 115.6 L239.9 116.1 L241.5 116.5 L243.0 116.9 L244.5 117.3 L246.0 117.7 L247.4 118.0 L248.9 118.4 L250.4 118.7 L251.8 119.0 L253.4 119.3 L254.9 119.6 L256.5 119.9 L258.2 120.2 L260.0 120.5 L261.9 120.8 L263.8 121.1 L265.7 121.4 L267.7 121.8 L269.8 122.1 L271.9 122.4 L274.0 122.7 L276.2 123.0 L278.4 123.3 L280.7 123.5 L282.9 123.8 L285.2 124.0 L287.6 124.2 L290.0 124.4 L292.6 124.6 L295.1 124.8 L297.8 124.9 L300.4 125.1 L303.0 125.2 L305.6 125.4 L308.1 125.5 L310.5 125.6 L312.8 125.7 L315.0 125.8 L317.0 125.9 L318.8 126.0 L320.5 126.0 L322.1 126.1 L323.6 126.1 L325.1 126.1 L326.6 126.2 L328.1 126.2 L329.7 126.2 L331.4 126.1 L333.2 126.1 L335.2 126.1 L337.4 126.1 L339.8 126.0 L342.3 125.9 L344.9 125.8 L347.6 125.7 L350.4 125.6 L353.1 125.5 L355.7 125.4 L358.3 125.3 L360.7 125.2 L363.0 125.1 L365.0 125.0 L366.7 124.9 L368.0 124.9 L369.1 124.8 L370.0 124.8 L370.8 124.7 L371.6 124.7 L372.5 124.6 L373.5 124.5 L374.8 124.4 L376.4 124.3 L378.4 124.2 L381.0 124.0 L384.1 123.8 L387.6 123.5 L391.5 123.2 L395.7 122.9 L400.2 122.6 L404.9 122.3 L409.7 121.9 L414.5 121.6 L419.4 121.2 L424.2 120.9 L428.8 120.5 L433.3 120.2" stroke="#ff0000" stroke-width="1.5" stroke-dasharray="1.4 1.4"/>
</g>
<path d="M59 237.4 h5 M65.3 237.4 h5 M71.6 237.4 h5" stroke="#0000ff" stroke-width="0.8"/>
</svg>
<div class="t se" style="left:186.7px;top:1.4px;font-size:12px;">tan<i>α</i>=0.42,</div>
<div class="t se" style="left:256.2px;top:1.4px;font-size:12px;">tan<i>β</i>=1</div>
<div class="t yl" style="top:42.9px;">10<sup>−40</sup></div>
<div class="t yl" style="top:98.8px;">10<sup>−43</sup></div>
<div class="t yl" style="top:154.6px;">10<sup>−46</sup></div>
<div class="t yl" style="top:210.5px;">10<sup>−49</sup></div>
<div class="t yl" style="top:266.3px;">10<sup>−52</sup></div>
<div class="t xl" style="left:42.8px;top:275.3px;">2</div>
<div class="t xl" style="left:117.0px;top:275.3px;">5</div>
<div class="t xl" style="left:173.1px;top:275.3px;">10</div>
<div class="t xl" style="left:229.2px;top:275.3px;">20</div>
<div class="t xl" style="left:303.4px;top:275.3px;">50</div>
<div class="t xl" style="left:359.6px;top:275.3px;">100</div>
<div class="t xl" style="left:415.7px;top:275.3px;">200</div>
<div class="t" id="ylab" style="left:0;top:0;font-size:13.4px;transform-origin:0 0;transform:translate(2.2px,175.6px) rotate(-90deg);"><i>σ</i><sub style="font-size:9px;vertical-align:baseline;position:relative;top:3px;">el</sub><span style="margin-left:2.2px;">(cm</span><sup style="font-size:9px;vertical-align:baseline;position:relative;top:-5px;">2</sup>)</div>
<div class="t" id="xlab" style="left:214.4px;top:288px;font-size:13px;"><i>m</i><sub style="font-size:7px;vertical-align:baseline;position:relative;top:1.5px;color:#555;margin-left:-0.5px;margin-right:-1.2px;"><i>φ</i></sub>(GeV)</div>
<div class="t br" style="left:199.6px;top:36.6px;">DAMA</div>
<div class="t br" style="left:190.5px;top:50.5px;">CoGeNT</div>
<div class="t br" style="left:207.3px;top:64.4px;">DAMA (with channeling)</div>
<div class="t br" style="left:108.8px;top:84px;">xenon100 +</div>
<div class="t br" style="left:249.3px;top:95.1px;">CDMS</div>
<div class="t br" style="left:259.1px;top:114.1px;">cdmssoudan</div>
<div class="t br" style="left:245.9px;top:124.7px;">cdmssnolab</div>
<div class="t br" style="left:333.6px;top:233.9px;">250 GeV</div>
<div class="t br" style="left:381.6px;top:209.6px;">360 GeV</div>
<div class="t br" style="left:398.7px;top:228.3px;">300 GeV</div>
<div class="t" style="left:83.1px;top:232.1px;font-size:9.9px;color:#0000ff;">xenon100, low <i>L</i><span class="se" style="font-size:7.5px;position:relative;top:2.2px;">eff</span><span class="se" style="font-size:10.1px;">, decr. extrapolation</span></div>
<div class="t" style="left:59.3px;top:247px;font-size:9.2px;color:#000;"><span class="se">........</span></div>
<div class="t" style="left:83.4px;top:246px;font-size:9.9px;color:#000;">xenon100, global <i>L</i><span class="se" style="font-size:7.5px;position:relative;top:2.2px;">eff</span><span class="se" style="font-size:10.1px;"> fit, const. extrapolation</span></div>
</div></body></html>
